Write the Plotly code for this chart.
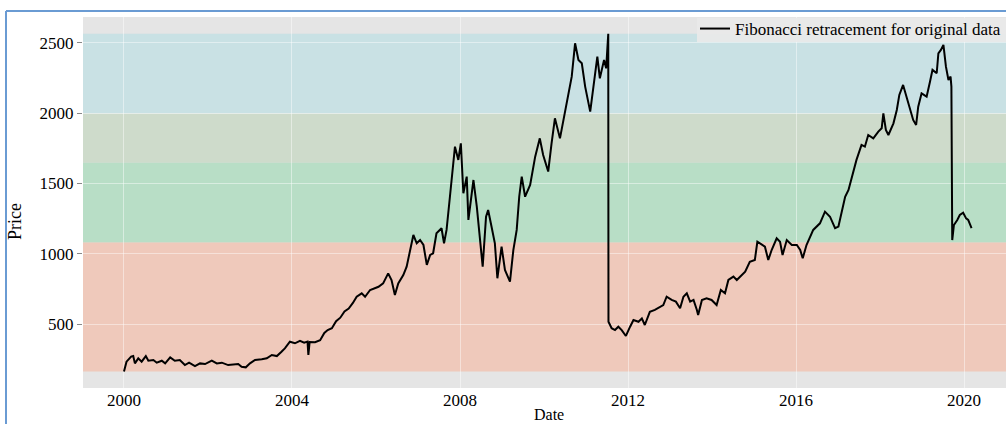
import plotly.graph_objects as go

# decimal years and prices
years = [
    2000.00, 2000.06, 2000.17, 2000.22, 2000.26, 2000.34, 2000.42, 2000.52, 2000.58, 2000.70,
    2000.78, 2000.90, 2000.98, 2001.10, 2001.21, 2001.33, 2001.45, 2001.55, 2001.69, 2001.81,
    2001.93, 2002.09, 2002.21, 2002.33, 2002.48, 2002.60, 2002.72, 2002.80, 2002.90, 2003.00,
    2003.12, 2003.28, 2003.40, 2003.52, 2003.64, 2003.75, 2003.83, 2003.95, 2004.07, 2004.19,
    2004.29, 2004.37, 2004.39, 2004.42, 2004.55, 2004.67, 2004.77, 2004.85, 2004.95, 2005.05,
    2005.15, 2005.25, 2005.35, 2005.45, 2005.54, 2005.66, 2005.74, 2005.86, 2005.98, 2006.06,
    2006.17, 2006.29, 2006.37, 2006.45, 2006.53, 2006.65, 2006.73, 2006.81, 2006.89, 2006.97,
    2007.05, 2007.13, 2007.21, 2007.29, 2007.36, 2007.44, 2007.56, 2007.62, 2007.68, 2007.76,
    2007.84, 2007.88, 2007.96, 2008.02, 2008.08, 2008.16, 2008.20, 2008.32, 2008.40, 2008.48,
    2008.54, 2008.62, 2008.67, 2008.75, 2008.83, 2008.89, 2008.99, 2009.07, 2009.19, 2009.27,
    2009.35, 2009.41, 2009.47, 2009.55, 2009.67, 2009.79, 2009.90, 2009.98, 2010.10, 2010.18,
    2010.26, 2010.38, 2010.50, 2010.58, 2010.66, 2010.74, 2010.82, 2010.90, 2010.98, 2011.10,
    2011.17, 2011.27, 2011.33, 2011.43, 2011.48, 2011.53, 2011.535, 2011.61, 2011.69, 2011.77,
    2011.85, 2011.95, 2012.05, 2012.13, 2012.25, 2012.33, 2012.40, 2012.52, 2012.64, 2012.76,
    2012.84, 2012.92, 2013.04, 2013.14, 2013.24, 2013.32, 2013.40, 2013.48, 2013.56, 2013.64,
    2013.67, 2013.76, 2013.87, 2013.99, 2014.11, 2014.21, 2014.31, 2014.39, 2014.51, 2014.59,
    2014.67, 2014.79, 2014.90, 2015.02, 2015.08, 2015.18, 2015.26, 2015.34, 2015.42, 2015.54,
    2015.62, 2015.68, 2015.78, 2015.90, 2016.02, 2016.10, 2016.16, 2016.25, 2016.41, 2016.57,
    2016.69, 2016.81, 2016.93, 2017.01, 2017.09, 2017.17, 2017.25, 2017.33, 2017.44, 2017.56,
    2017.64, 2017.72, 2017.84, 2017.96, 2018.04, 2018.08, 2018.14, 2018.20, 2018.32, 2018.40,
    2018.46, 2018.55, 2018.64, 2018.71, 2018.79, 2018.86, 2018.91, 2018.99, 2019.11, 2019.19,
    2019.25, 2019.35, 2019.39, 2019.45, 2019.51, 2019.57, 2019.63, 2019.68, 2019.70, 2019.72,
    2019.76, 2019.84, 2019.90, 2019.98, 2020.05, 2020.10, 2020.18,
]
prices = [
    162, 232, 268, 272, 220, 256, 232, 272, 239, 244,
    225, 239, 220, 263, 239, 244, 208, 225, 201, 220,
    215, 239, 220, 225, 208, 213, 215, 196, 192, 220,
    244, 249, 256, 280, 272, 303, 327, 374, 363, 381,
    367, 375, 280, 372, 370, 385, 436, 457, 470, 520,
    545, 590, 610, 650, 694, 718, 694, 742, 754, 765,
    789, 860, 813, 706, 789, 848, 908, 1026, 1133, 1074,
    1097, 1062, 920, 991, 1003, 1145, 1181, 1074, 1169, 1405,
    1643, 1761, 1667, 1785, 1430, 1548, 1240, 1524, 1334, 1074,
    908, 1263, 1311, 1193, 1074, 825, 1050, 884, 801, 1026,
    1169, 1405, 1548, 1405, 1489, 1690, 1820, 1702, 1584, 1785,
    1963, 1820, 1998, 2117, 2259, 2496, 2378, 2354, 2188, 2010,
    2188, 2401, 2247, 2378, 2318, 2564, 516, 470, 457, 481,
    457, 415, 481, 528, 516, 540, 493, 587, 600, 623,
    635, 694, 671, 659, 612, 694, 718, 659, 671, 600,
    564, 671, 683, 671, 635, 742, 718, 813, 837, 813,
    837, 872, 943, 955, 1085, 1062, 1050, 955, 1026, 1109,
    1085, 991, 1097, 1062, 1062, 1026, 967, 1062, 1169, 1216,
    1299, 1263, 1181, 1193, 1311, 1405, 1453, 1548, 1667, 1773,
    1761, 1844, 1820, 1868, 1892, 1998, 1880, 1844, 1927, 2022,
    2129, 2200, 2105, 2022, 1951, 1915, 2045, 2140, 2117, 2223,
    2307, 2283, 2425, 2449, 2484, 2330, 2235, 2259, 2188, 1097,
    1204, 1240, 1275, 1291, 1251, 1240, 1181,
]

x_ticks = [2000, 2004, 2008, 2012, 2016, 2020]
y_ticks = [500, 1000, 1500, 2000, 2500]
fib_ratios = [0, 0.236, 0.382, 0.618, 1]
band_colors = ["rgba(189,224,228,0.7)", "rgba(196,215,192,0.7)",
               "rgba(165,220,185,0.7)", "rgba(243,189,169,0.7)"]

FONT = "Liberation Serif"

pmax, pmin = max(prices), min(prices)
diff = pmax - pmin
levels = [pmax - r * diff for r in fib_ratios]

fig = go.Figure()
fig.add_trace(go.Scatter(
    x=years, y=prices, mode="lines",
    line=dict(color="black", width=2),
    name="Fibonacci retracement for original data",
))

shapes = []
for i in range(4):
    shapes.append(dict(type="rect", xref="paper", yref="y", x0=0, x1=1,
                       y0=levels[i + 1], y1=levels[i], fillcolor=band_colors[i],
                       line=dict(width=0), layer="between"))

W, H = 1006, 424
L, T, R, B = 83, 17, 0, 36
pw, ph = W - L - R, H - T - B


def px(xp):
    return (xp - L) / pw


def py(yp):
    return (H - B - yp) / ph


# legend background box
shapes.append(dict(type="rect", xref="paper", yref="paper",
                   x0=px(697), x1=1, y0=py(42), y1=py(18),
                   fillcolor="rgba(233,233,233,0.95)", line=dict(width=0),
                   layer="above"))

# blue frame around the figure
shapes.append(dict(type="line", xref="paper", yref="paper",
                   x0=px(6), x1=px(6), y0=py(11), y1=py(440),
                   line=dict(color="#6A9BD3", width=2)))
shapes.append(dict(type="line", xref="paper", yref="paper",
                   x0=px(6), x1=px(1020), y0=py(11), y1=py(11),
                   line=dict(color="#6A9BD3", width=2)))

fig.update_layout(
    width=W, height=H,
    margin=dict(l=L, r=R, t=T, b=B),
    paper_bgcolor="white",
    plot_bgcolor="#E5E5E5",
    font=dict(family=FONT, size=17, color="black"),
    shapes=shapes,
    showlegend=True,
    legend=dict(x=1, xanchor="right", y=py(11), yanchor="top",
                bgcolor="rgba(0,0,0,0)", borderwidth=0,
                font=dict(family=FONT, size=17, color="black"),
                itemwidth=30, tracegroupgap=0),
    annotations=[
        dict(text="Date", xref="paper", yref="paper", x=px(549), y=py(414),
             xanchor="center", yanchor="middle",
             showarrow=False, font=dict(family=FONT, size=16, color="black")),
        dict(text="Price", xref="paper", yref="paper", x=px(15), y=py(222),
             xanchor="center", yanchor="middle",
             textangle=-90, showarrow=False,
             font=dict(family=FONT, size=18, color="black")),
    ],
)
fig.update_xaxes(range=[1999.024, 2021.0], tickvals=x_ticks,
                 ticktext=[str(t) for t in x_ticks],
                 showgrid=True, gridcolor="rgba(255,255,255,0.45)", gridwidth=1,
                 zeroline=False, showline=False,
                 ticks="",
                 tickfont=dict(family=FONT, size=17, color="black"))
fig.update_yaxes(range=[45, 2683], tickvals=y_ticks,
                 showgrid=True, gridcolor="rgba(255,255,255,0.45)", gridwidth=1,
                 zeroline=False, showline=False,
                 ticks="outside", ticklen=5, tickcolor="#888",
                 tickfont=dict(family=FONT, size=17, color="black"))

fig.write_html("out.html",
               config={"displayModeBar": False},
               post_script="document.body.style.margin='0';"
                           "document.body.style.overflow='hidden';")
